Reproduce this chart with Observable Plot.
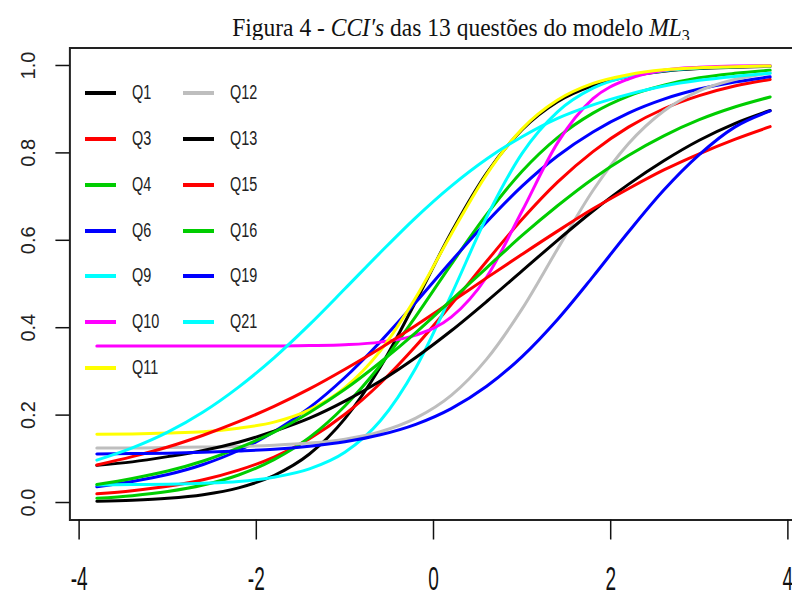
<!DOCTYPE html>
<html>
<head>
<meta charset="utf-8">
<script src="https://cdn.jsdelivr.net/npm/d3@7"></script>
<script src="https://cdn.jsdelivr.net/npm/@observablehq/plot@0.6"></script>
<style>
  html, body { margin: 0; padding: 0; background: #fff; overflow: hidden; width: 792px; height: 597px; }
  #wrap { position: relative; width: 792px; height: 597px; }
  #title { position: absolute; left: 461px; top: 17px; transform: translateX(-50%) scaleY(1.08); white-space: nowrap;
           font-family: "Liberation Serif", "Times New Roman", serif; font-size: 23.5px; line-height: 23px; color: #111; }
  #title i { font-family: "Liberation Serif", serif; }
  #chart { position: absolute; left: 0; top: 40px; }
  #legend { position: absolute; left: 85px; top: 70.4px; display: grid;
            grid-template-columns: 98px 98px; grid-template-rows: repeat(7, 45.8px); grid-auto-flow: column; }
  .item { display: flex; align-items: center; font-family: "Liberation Sans", Arial, sans-serif;
          font-size: 18.5px; color: #222; }
  .sw { display: inline-block; width: 31px; height: 4px; margin-right: 16px; }
  .lab { display: inline-block; transform: scale(0.78, 1.08); transform-origin: left center; }
</style>
</head>
<body>
<div id="wrap">
  <div id="title">Figura 4 - <i>CCI′s</i> das 13 questões do modelo <i>ML</i><sub style="font-size:16px;vertical-align:-4px">3</sub></div>
  <div id="chart"></div>
  <div id="legend"></div>
</div>
<script>
// ability grid (theta) where curves were read
const theta = [-3.8, -3.4, -3.0, -2.6, -2.2, -1.8, -1.4, -1.0, -0.6, -0.2, 0.2, 0.6, 1.0, 1.4, 1.8, 2.2, 2.6, 3.0, 3.4, 3.8];

// items, in drawing / legend order
const items = ["Q1", "Q3", "Q4", "Q6", "Q9", "Q10", "Q11", "Q12", "Q13", "Q15", "Q16", "Q19", "Q21"];
const colors = ["#000000", "#FF0000", "#00CD00", "#0000FF", "#00FFFF", "#FF00FF", "#FFFF00", "#BEBEBE",
                "#000000", "#FF0000", "#00CD00", "#0000FF", "#00FFFF"];

// probability of correct answer read at each theta
const Q1  = [0.0027, 0.0051, 0.0096, 0.0180, 0.0336, 0.0618, 0.111, 0.192, 0.310, 0.460, 0.618, 0.754, 0.853, 0.917, 0.954, 0.975, 0.987, 0.993, 0.996, 0.998];
const Q3  = [0.020, 0.027, 0.037, 0.052, 0.074, 0.104, 0.146, 0.202, 0.273, 0.358, 0.453, 0.552, 0.648, 0.733, 0.803, 0.859, 0.901, 0.931, 0.953, 0.968];
const Q4  = [0.0097, 0.0157, 0.0251, 0.0399, 0.063, 0.098, 0.149, 0.221, 0.314, 0.426, 0.545, 0.659, 0.758, 0.835, 0.891, 0.930, 0.955, 0.972, 0.982, 0.989];
const Q6  = [0.036, 0.048, 0.064, 0.087, 0.119, 0.162, 0.217, 0.286, 0.368, 0.458, 0.552, 0.642, 0.724, 0.793, 0.848, 0.891, 0.923, 0.946, 0.962, 0.974];
const Q9  = [0.040, 0.041, 0.042, 0.044, 0.048, 0.058, 0.077, 0.115, 0.187, 0.308, 0.475, 0.653, 0.799, 0.894, 0.948, 0.975, 0.988, 0.994, 0.997, 0.999];
const Q10 = [0.358, 0.358, 0.358, 0.358, 0.358, 0.358, 0.359, 0.361, 0.367, 0.383, 0.424, 0.516, 0.667, 0.823, 0.924, 0.969, 0.989, 0.996, 0.999, 0.9995];
const Q11 = [0.156, 0.157, 0.159, 0.162, 0.170, 0.184, 0.212, 0.263, 0.347, 0.469, 0.614, 0.751, 0.855, 0.921, 0.959, 0.979, 0.990, 0.995, 0.997, 0.999];
const Q12 = [0.125, 0.125, 0.126, 0.127, 0.128, 0.131, 0.136, 0.145, 0.162, 0.193, 0.245, 0.328, 0.443, 0.580, 0.714, 0.821, 0.896, 0.942, 0.968, 0.983];
const Q13 = [0.085, 0.093, 0.105, 0.119, 0.138, 0.163, 0.193, 0.232, 0.278, 0.332, 0.393, 0.460, 0.530, 0.600, 0.667, 0.728, 0.782, 0.829, 0.867, 0.897];
const Q15 = [0.086, 0.105, 0.127, 0.154, 0.185, 0.220, 0.260, 0.305, 0.353, 0.405, 0.459, 0.514, 0.568, 0.621, 0.672, 0.718, 0.761, 0.798, 0.831, 0.860];
const Q16 = [0.041, 0.055, 0.072, 0.095, 0.125, 0.161, 0.206, 0.259, 0.321, 0.389, 0.463, 0.537, 0.611, 0.679, 0.741, 0.794, 0.839, 0.876, 0.905, 0.928];
const Q19 = [0.111, 0.112, 0.113, 0.115, 0.118, 0.122, 0.129, 0.139, 0.155, 0.179, 0.215, 0.266, 0.334, 0.419, 0.517, 0.619, 0.715, 0.796, 0.859, 0.896];
const Q21 = [0.097, 0.125, 0.161, 0.207, 0.264, 0.331, 0.407, 0.489, 0.572, 0.652, 0.724, 0.786, 0.837, 0.879, 0.910, 0.934, 0.953, 0.966, 0.975, 0.982];

const series = [Q1, Q3, Q4, Q6, Q9, Q10, Q11, Q12, Q13, Q15, Q16, Q19, Q21];

// axis ticks
const xTicks = [-4, -2, 0, 2, 4];
const yTicks = [0, 0.2, 0.4, 0.6, 0.8, 1.0];
const yTickLabels = ["0.0", "0.2", "0.4", "0.6", "0.8", "1.0"];

const rows = [];
items.forEach((item, i) => {
  series[i].forEach((p, j) => rows.push({item, order: i, theta: theta[j], p}));
});
const colorOf = Object.fromEntries(items.map((it, i) => [it, colors[i]]));

const plot = Plot.plot({
  width: 792,
  height: 557,
  marginLeft: 69.4,
  marginRight: -4.6,
  marginTop: 7.5,
  marginBottom: 77.5,
  style: {overflow: "hidden", background: "white", color: "#111"},
  x: {domain: [-4.104, 4.104], axis: null},
  y: {domain: [-0.04, 1.04], axis: null},
  marks: [
    Plot.line(rows, {x: "theta", y: "p", z: "item", stroke: d => colorOf[d.item], strokeWidth: 3, curve: "monotone-x"}),
    Plot.frame({stroke: "#222", strokeWidth: 2}),
    Plot.axisX({ticks: xTicks, tickSize: 20, tickPadding: 26, tickFormat: d => String(d), fontSize: 34,
                fontFamily: "Liberation Sans, Arial, sans-serif", strokeWidth: 1.5, label: null}),
    Plot.axisY({ticks: yTicks, tickSize: 14, tickFormat: () => "", strokeWidth: 1.5, label: null}),
    Plot.text(yTicks, {y: d => d, text: (d, i) => yTickLabels[i], frameAnchor: "left", dx: -41.4, rotate: -90,
                       fontSize: 20, fontFamily: "Liberation Sans, Arial, sans-serif", fill: "#222", textAnchor: "middle", lineAnchor: "middle"})
  ]
});

// condense the x tick labels horizontally (tall narrow digits as in the reference)
plot.querySelectorAll('g[aria-label="x-axis tick label"] text').forEach(t => {
  let tr = t.getAttribute("transform");
  if (!tr) {
    const x = t.getAttribute("x") || 0, y = t.getAttribute("y") || 0;
    t.removeAttribute("x"); t.removeAttribute("y");
    tr = `translate(${x},${y})`;
  }
  t.setAttribute("transform", tr + " scale(0.56,1)");
});
document.getElementById("chart").appendChild(plot);

const legend = document.getElementById("legend");
items.forEach((it, i) => {
  const d = document.createElement("div");
  d.className = "item";
  d.innerHTML = `<span class="sw" style="background:${colors[i]}"></span><span class="lab">${it}</span>`;
  legend.appendChild(d);
});
</script>
</body>
</html>
